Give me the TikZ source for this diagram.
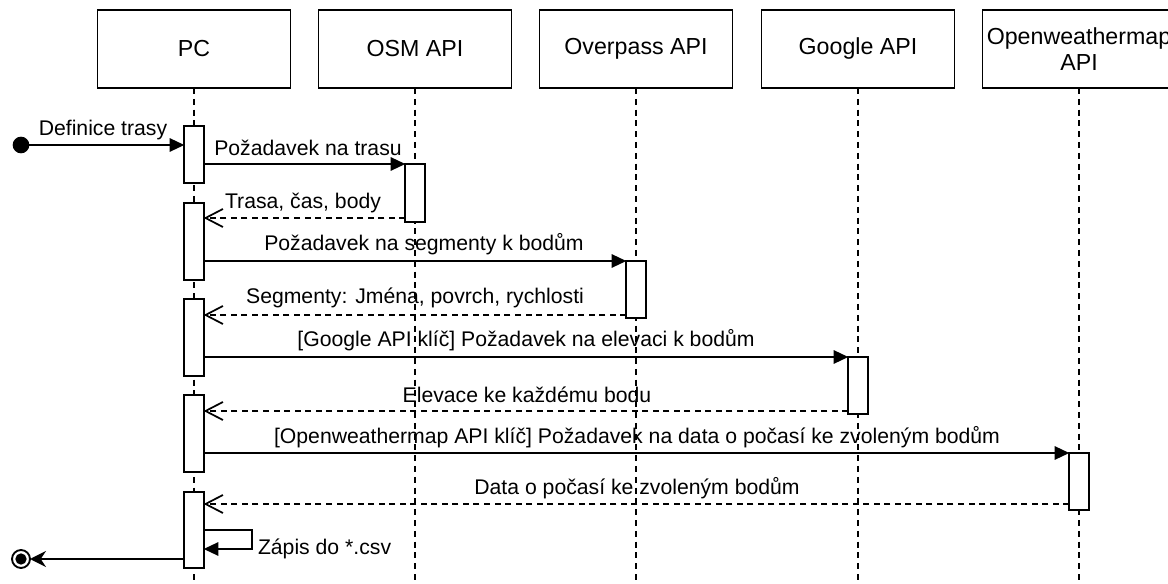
\documentclass[tikz,border=0pt]{standalone}
\usepackage{fontspec}
\setmainfont{Liberation Sans}
\usetikzlibrary{arrows.meta}
\begin{document}
\begin{tikzpicture}[x=0.75pt,y=-0.75pt,
  every node/.style={inner sep=0pt, outer sep=0pt},
  head/.style={draw, line width=1.4pt, minimum width=144.75pt, minimum height=58.5pt, align=center, font=\fontsize{17.4}{19}\selectfont},
  life/.style={line width=1.4pt, dash pattern=on 4.5pt off 3.6pt},
  actbar/.style={draw, fill=white, line width=1.4pt, minimum width=14.5pt, minimum height=#1*0.75pt},
  msg/.style={font=\fontsize{15.9}{18}\selectfont},
  sync/.style={line width=1.4pt, -{Triangle[length=11pt,width=10pt]}},
  ret/.style={line width=1.4pt, dash pattern=on 4.5pt off 3.4pt, -{Straight Barb[length=13pt,width=13.5pt,line width=1.3pt]}},
  endarr/.style={line width=1.4pt, -{Stealth[length=12pt,width=12pt,inset=4pt]}}
]
\useasboundingbox (0,0) rectangle (1168,584);

% headers
\node[head] (pc) at (194,49) {PC};
\node[head] (osm) at (415,49) {OSM API};
\node[head] (ovp) at (636,49) {Overpass API};
\node[head] (ggl) at (858,49) {Google API};
\node[head] (owm) at (1079,49) {Openweathermap\\API};

% lifelines
\foreach \n in {pc,osm,ovp,ggl,owm}
  \draw[life] (\n.south) -- (\n.south |- 0,584);

% activation bars
\node[actbar=57] (b1) at (194,154.5) {};
\node[actbar=77] (b2) at (194,241.5) {};
\node[actbar=77] (b3) at (194,337.5) {};
\node[actbar=77] (b4) at (194,433.5) {};
\node[actbar=76] (b5) at (194,530) {};
\node[actbar=58] (a1) at (415,193) {};
\node[actbar=57] (a2) at (636,289.5) {};
\node[actbar=57] (a3) at (858,385.5) {};
\node[actbar=57] (a4) at (1079,481.5) {};

% start and end markers
\node[circle, fill, minimum size=12.5pt] (start) at (21,145) {};
\node[circle, draw, line width=1.4pt, minimum size=13.5pt] (stop) at (21,559) {};
\node[circle, fill, minimum size=8.5pt] (stopdot) at (stop.center) {};

% messages
\draw[sync] (start.center) -- (b1.west |- start);
\node[msg] (l0) at (103,130) {Definice trasy};

\draw[sync] (b1.east |- a1.north) -- (a1.north west);
\node[msg] (l1) at (308,148) {Požadavek na trasu};

\draw[ret] (a1.west |- 0,218) -- (b2.east |- 0,218);
\node[msg] (l2) at (303,203) {Trasa, čas, body};

\draw[sync] (b2.east |- a2.north) -- (a2.north west);
\node[msg] (l3) at (424,244) {Požadavek na segmenty k bodům};

\draw[ret] (a2.west |- 0,315) -- (b3.east |- 0,315);
\node[msg] (l4) at (415,298) {Segmenty: Jména, povrch, rychlosti};

\draw[sync] (b3.east |- a3.north) -- (a3.north west);
\node[msg] (l5) at (526,340) {[Google API klíč] Požadavek na elevaci k bodům};

\draw[ret] (a3.west |- 0,411) -- (b4.east |- 0,411);
\node[msg] (l6) at (527,395) {Elevace ke každému bodu};

\draw[sync] (b4.east |- a4.north) -- (a4.north west);
\node[msg] (l7) at (637,437) {[Openweathermap API klíč] Požadavek na data o počasí ke zvoleným bodům};

\draw[ret] (a4.west |- 0,504) -- (b5.east |- 0,504);
\node[msg] (l8) at (637,488) {Data o počasí ke zvoleným bodům};

% self message
\coordinate (s1) at (252,530);
\coordinate (s2) at (252,549);
\draw[sync] (b5.east |- s1) -- (s1) -- (s2) -- (b5.east |- s2);
\node[msg, anchor=west] (l9) at (258,549) {Zápis do *.csv};

% end message
\draw[endarr] (b5.west |- stop) -- (stop.east);
\end{tikzpicture}
\end{document}
